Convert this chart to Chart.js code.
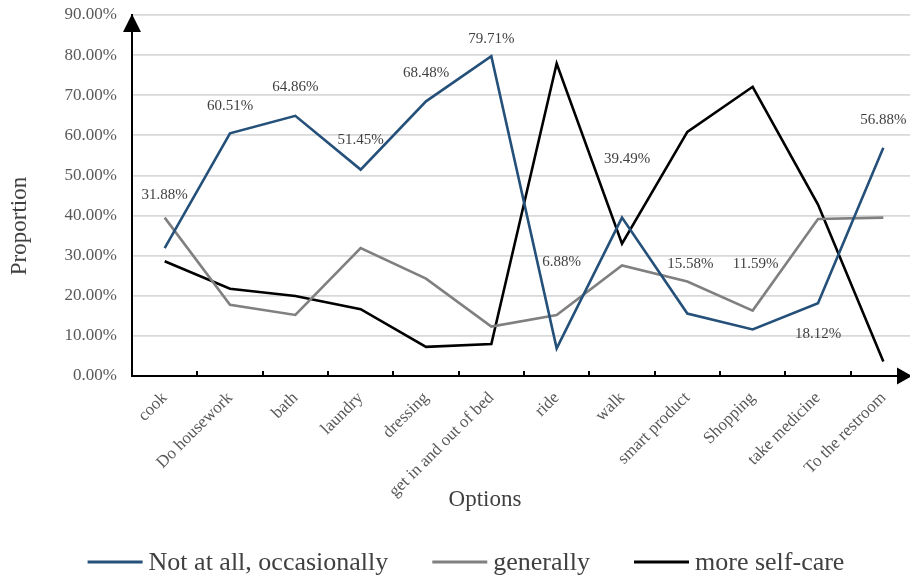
<!DOCTYPE html>
<html>
<head>
<meta charset="utf-8">
<script src="https://cdn.jsdelivr.net/npm/chart.js@4/dist/chart.umd.min.js"></script>
<style>
  html, body { margin: 0; padding: 0; background: #fff; overflow: hidden; }
  canvas { display: block; }
</style>
</head>
<body>
<canvas id="chart" width="918" height="578"></canvas>
<script>
// Activities of daily living
const categories = [
  'cook', 'Do housework', 'bath', 'laundry', 'dressing', 'get in and out of bed',
  'ride', 'walk', 'smart product', 'Shopping', 'take medicine', 'To the restroom'
];

// Share of respondents (%) per self-care level
const notAtAll = [31.88, 60.51, 64.86, 51.45, 68.48, 79.71, 6.88, 39.49, 15.58, 11.59, 18.12, 56.88];
const generally = [39.49, 17.75, 15.22, 31.88, 24.28, 12.32, 15.22, 27.54, 23.55, 16.30, 39.13, 39.49];
const moreSelfCare = [28.62, 21.74, 19.93, 16.67, 7.25, 7.97, 77.90, 32.97, 60.87, 72.10, 42.75, 3.62];

const seriesNames = ['Not at all, occasionally', 'generally', 'more self-care'];
const yTicks = [0, 10, 20, 30, 40, 50, 60, 70, 80, 90];

// pixel nudges for the value labels of the first series, relative to each point
const labelNudge = [
  [0, -53], [0, -27], [0, -29], [0, -30], [0, -28], [0, -17],
  [5, -86], [5, -59], [3, -49], [3, -65], [0, 31], [0, -28]
];

const SERIF = '"Liberation Serif", "Times New Roman", serif';
const COLORS = ['#24507a', '#808080', '#000000'];

// Value labels, axis titles, arrows, inner ticks and legend
const decorations = {
  id: 'decorations',
  afterDatasetsDraw(chart) {
    const ctx = chart.ctx;
    ctx.save();
    ctx.font = '15px ' + SERIF;
    ctx.fillStyle = '#404040';
    ctx.textAlign = 'center';
    ctx.textBaseline = 'middle';
    const meta = chart.getDatasetMeta(0);
    meta.data.forEach((pt, i) => {
      const v = chart.data.datasets[0].data[i];
      ctx.fillText(v.toFixed(2) + '%', pt.x + labelNudge[i][0], pt.y + labelNudge[i][1]);
    });
    ctx.restore();
  },
  afterDraw(chart) {
    const ctx = chart.ctx;
    const xs = chart.scales.x;
    const area = chart.chartArea;
    ctx.save();

    // inner tick marks at category boundaries
    ctx.strokeStyle = '#000';
    ctx.lineWidth = 2;
    for (let i = 1; i <= categories.length; i++) {
      const px = Math.round(xs.getPixelForValue(i - 0.5));
      ctx.beginPath();
      ctx.moveTo(px, area.bottom);
      ctx.lineTo(px, area.bottom - 5);
      ctx.stroke();
    }

    // arrow heads on both axes
    ctx.fillStyle = '#000';
    ctx.beginPath();
    ctx.moveTo(area.left, area.top - 1);
    ctx.lineTo(area.left - 9, area.top + 17);
    ctx.lineTo(area.left + 9, area.top + 17);
    ctx.closePath();
    ctx.fill();

    ctx.beginPath();
    ctx.moveTo(912, area.bottom);
    ctx.lineTo(897, area.bottom - 8.5);
    ctx.lineTo(897, area.bottom + 8.5);
    ctx.closePath();
    ctx.fill();

    // axis titles
    ctx.fillStyle = '#404040';
    ctx.font = '23px ' + SERIF;
    ctx.textAlign = 'center';
    ctx.textBaseline = 'middle';
    ctx.fillText('Options', 485, 500);
    ctx.save();
    ctx.translate(20, 226);
    ctx.rotate(-Math.PI / 2);
    ctx.fillText('Proportion', 0, 0);
    ctx.restore();

    // legend
    ctx.font = '26px ' + SERIF;
    ctx.textBaseline = 'alphabetic';
    ctx.textAlign = 'left';
    const lineW = 55, gapText = 6, gapItem = 44;
    const widths = chart.data.datasets.map(d => lineW + gapText + ctx.measureText(d.label).width);
    const total = widths.reduce((a, b) => a + b, 0) + gapItem * (widths.length - 1);
    let x = 466 - total / 2;
    chart.data.datasets.forEach((d, i) => {
      ctx.strokeStyle = d.borderColor;
      ctx.lineWidth = 3;
      ctx.beginPath();
      ctx.moveTo(x, 562);
      ctx.lineTo(x + lineW, 562);
      ctx.stroke();
      ctx.fillStyle = '#404040';
      ctx.fillText(d.label, x + lineW + gapText, 570);
      x += widths[i] + gapItem;
    });
    ctx.restore();
  }
};

new Chart(document.getElementById('chart'), {
  type: 'line',
  data: {
    labels: categories,
    datasets: [notAtAll, generally, moreSelfCare].map((vals, i) => ({
      label: seriesNames[i],
      data: vals,
      borderColor: COLORS[i],
      backgroundColor: COLORS[i],
      borderWidth: 2.6,
      pointRadius: 0,
      pointHoverRadius: 0,
      tension: 0,
      fill: false
    }))
  },
  options: {
    responsive: false,
    animation: false,
    devicePixelRatio: 1,
    layout: { padding: { top: 15, right: 2, bottom: 0, left: 0 } },
    plugins: {
      legend: { display: false },
      tooltip: { enabled: false }
    },
    scales: {
      x: {
        type: 'category',
        offset: true,
        grid: { display: false },
        border: { display: true, color: '#000', width: 2 },
        ticks: {
          autoSkip: false,
          minRotation: 45,
          maxRotation: 45,
          padding: 4,
          color: '#595959',
          font: { family: SERIF, size: 17 }
        },
        afterFit(scale) {
          scale.height = 202;
          scale.paddingTop = 0; scale.paddingLeft = 0; scale.paddingRight = 0;
        }
      },
      y: {
        min: 0,
        max: 90,
        afterBuildTicks(scale) { scale.ticks = yTicks.map(v => ({ value: v })); },
        grid: { color: '#d9d9d9', lineWidth: 1.8, drawTicks: false },
        border: { display: true, color: '#000', width: 2 },
        ticks: {
          padding: 15,
          color: '#595959',
          font: { family: SERIF, size: 17 },
          callback: v => Number(v).toFixed(2) + '%'
        },
        afterFit(scale) {
          scale.width = 132;
          scale.paddingTop = 0; scale.paddingBottom = 0;
        }
      }
    }
  },
  plugins: [decorations]
});
</script>
</body>
</html>
